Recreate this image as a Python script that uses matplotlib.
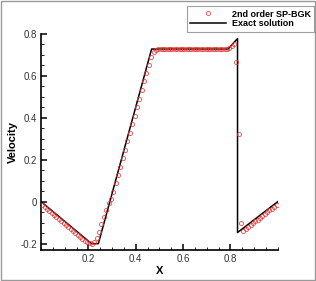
import numpy as np
import matplotlib
matplotlib.use('Agg')
import matplotlib.pyplot as plt
from matplotlib.patches import Rectangle
from matplotlib.ticker import MultipleLocator, FixedLocator, FuncFormatter

plt.rcParams['font.family'] = ['Liberation Sans', 'DejaVu Sans']

# exact solution (breakpoints)
x_exact = [0.0, 0.213, 0.242, 0.467, 0.790, 0.830, 0.830, 1.0]
u_exact = [0.0, -0.200, -0.200, 0.727, 0.727, 0.777, -0.147, 0.0]

# 2nd order SP-BGK, cell centres
x_num = np.linspace(0.005, 0.995, 100)
u_num = [-0.016, -0.026, -0.035, -0.045, -0.054, -0.064, -0.073, -0.083, -0.092, -0.101,
         -0.111, -0.120, -0.130, -0.139, -0.148, -0.158, -0.167, -0.176, -0.185, -0.193,
         -0.199, -0.200, -0.190, -0.172, -0.145, -0.108, -0.072, -0.038, -0.008, 0.015,
         0.048, 0.087, 0.127, 0.167, 0.207, 0.247, 0.287, 0.328, 0.369, 0.410,
         0.450, 0.491, 0.532, 0.573, 0.614, 0.653, 0.690, 0.712, 0.722, 0.727,
         0.728, 0.727, 0.726, 0.727, 0.728, 0.727, 0.726, 0.727, 0.728, 0.727,
         0.727, 0.726, 0.727, 0.728, 0.727, 0.726, 0.727, 0.728, 0.727, 0.726,
         0.727, 0.728, 0.727, 0.727, 0.726, 0.727, 0.728, 0.727, 0.728, 0.733,
         0.741, 0.750, 0.664, 0.322, -0.100, -0.138, -0.128, -0.120, -0.111, -0.103,
         -0.094, -0.085, -0.077, -0.068, -0.059, -0.051, -0.042, -0.034, -0.025, -0.016]

fig = plt.figure(figsize=(3.16, 2.81), dpi=100)
ax = fig.add_axes([0.130, 0.112, 0.749, 0.768])

ax.plot(x_num, u_num, 'o', mfc='none', mec='#ee3333', ms=2.9, mew=0.55,
        label='2nd order SP-BGK', zorder=3)
ax.plot(x_exact, u_exact, '-', color='black', lw=1.1, label='Exact solution', zorder=2)

ax.set_xlim(0, 1)
ax.set_ylim(-0.228, 0.8)
ax.spines['top'].set_visible(False)
ax.spines['right'].set_visible(False)
ax.spines['left'].set_linewidth(1.2)
ax.spines['bottom'].set_linewidth(1.2)

ax.xaxis.set_major_locator(FixedLocator([0.2, 0.4, 0.6, 0.8]))
ax.xaxis.set_minor_locator(MultipleLocator(0.05))
ax.yaxis.set_major_locator(FixedLocator([-0.2, 0, 0.2, 0.4, 0.6, 0.8]))
ax.yaxis.set_minor_locator(MultipleLocator(0.05))
fmt = FuncFormatter(lambda v, p: '0' if abs(v) < 1e-9 else f'{v:g}')
ax.xaxis.set_major_formatter(fmt)
ax.yaxis.set_major_formatter(fmt)
ax.tick_params(which='major', direction='in', length=4.5, width=1.1, labelsize=7, pad=3, colors='black')
ax.tick_params(which='minor', direction='in', length=2.5, width=0.6)
for lab in ax.get_xticklabels() + ax.get_yticklabels():
    lab.set_color('#333333')

ax.set_xlabel('X', fontsize=8, fontweight='bold', labelpad=2)
ax.set_ylabel('Velocity', fontsize=8, fontweight='bold', labelpad=2)

leg = fig.legend(loc='upper right', bbox_to_anchor=(0.995, 0.979), fontsize=6.5,
                 frameon=True, fancybox=False, borderaxespad=0, handlelength=4.0,
                 borderpad=0.4, labelspacing=0.1, handletextpad=0.6)
leg.get_frame().set_edgecolor('#888888')
leg.get_frame().set_linewidth(0.8)
for t in leg.get_texts():
    t.set_fontweight('bold')

fig.patches.append(Rectangle((0.003, 0.004), 0.994, 0.992, transform=fig.transFigure,
                             fill=False, edgecolor='#999999', lw=1.0))

fig.savefig('out.png', dpi=100)
